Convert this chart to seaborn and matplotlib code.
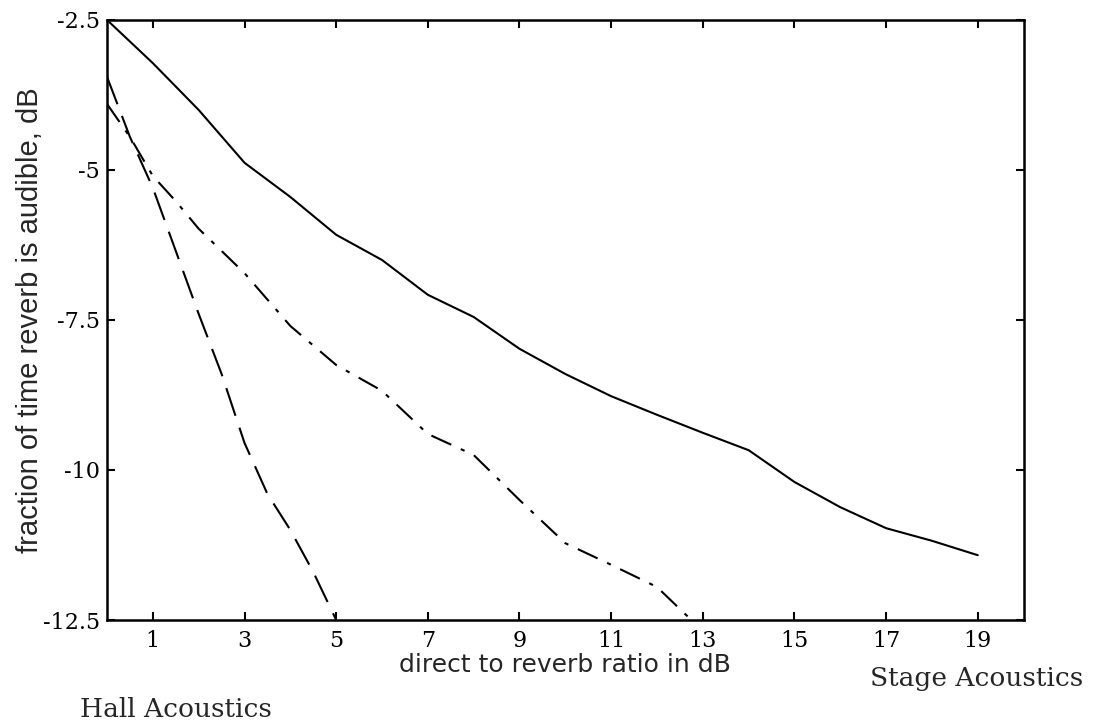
import matplotlib
matplotlib.use("Agg")
import matplotlib.pyplot as plt
import pandas as pd
import seaborn as sns

# values
solid_x = [0, 1, 2, 3, 4, 5, 6, 7, 8, 9, 10, 11, 12, 13, 14, 15, 16, 17, 18, 19]
solid_y = [-2.5, -3.22, -4.0, -4.88, -5.45, -6.08, -6.5, -7.08, -7.45, -7.98,
           -8.4, -8.77, -9.08, -9.38, -9.67, -10.2, -10.62, -10.97, -11.18, -11.42]

dashdot_x = [0, 0.5, 1, 1.5, 2, 3, 4, 5, 6, 7, 8, 9, 10, 11, 12, 12.75]
dashdot_y = [-3.9, -4.45, -5.1, -5.52, -5.98, -6.72, -7.6, -8.25, -8.68, -9.4,
             -9.75, -10.5, -11.22, -11.58, -11.95, -12.5]

longdash_x = [0, 0.5, 1, 1.5, 2, 2.5, 3, 3.5, 4, 4.5, 5]
longdash_y = [-3.45, -4.45, -5.3, -6.35, -7.4, -8.4, -9.55, -10.4, -11.0, -11.7, -12.5]

x_ticks = [1, 3, 5, 7, 9, 11, 13, 15, 17, 19]
y_ticks = [-2.5, -5, -7.5, -10, -12.5]
y_tick_labels = ["-2.5", "-5", "-7.5", "-10", "-12.5"]

sns.set_style("ticks")
plt.rcParams["font.family"] = ["DejaVu Serif", "DejaVu Sans"]

fig = plt.figure(figsize=(10.99, 7.26), dpi=100)
ax = fig.add_axes([0.0974, 0.146, 0.834, 0.8265])

curves = [
    (solid_x, solid_y, ""),
    (dashdot_x, dashdot_y, (10.5, 5, 2, 5)),
    (longdash_x, longdash_y, (14, 6)),
]
for xs, ys, dash in curves:
    df = pd.DataFrame({"x": xs, "y": ys})
    sns.lineplot(data=df, x="x", y="y", ax=ax, sort=False,
                 color="black", linewidth=1.5, estimator=None)
    if dash:
        ax.lines[-1].set_dashes(dash)

ax.set_xlim(0, 20)
ax.set_ylim(-12.5, -2.5)
ax.set_xticks(x_ticks)
ax.set_xticklabels([str(t) for t in x_ticks])
ax.set_yticks(y_ticks)
ax.set_yticklabels(y_tick_labels)
ax.tick_params(direction="in", length=6, width=1.5, top=True, right=True,
               labelsize=16, colors="black")
ax.tick_params(axis="x", pad=7)
ax.tick_params(axis="y", pad=5)
for s in ax.spines.values():
    s.set_linewidth(1.8)
    s.set_color("black")

ax.set_xlabel("direct to reverb ratio in dB", family="DejaVu Sans",
              fontsize=18, labelpad=1)
ax.set_ylabel("fraction of time reverb is audible, dB", family="Liberation Sans",
              fontsize=21, labelpad=-1)

fig.text(80 / 1099, 1 - 717 / 726, "Hall Acoustics", family="DejaVu Serif",
         fontsize=19, va="baseline")
fig.text(870 / 1099, 1 - 686 / 726, "Stage Acoustics", family="DejaVu Serif",
         fontsize=19, va="baseline")

fig.savefig("out.png", dpi=100, facecolor="white")
